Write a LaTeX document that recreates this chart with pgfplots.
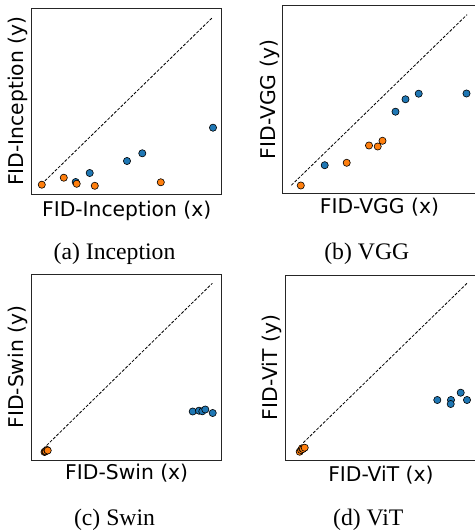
\documentclass[border=0pt]{standalone}
\usepackage{fontspec}
\setmainfont{Liberation Serif}
\newfontfamily\dejavu{DejaVu Sans}
\usepackage{pgfplots}
\pgfplotsset{compat=1.18}
\definecolor{tabblue}{HTML}{1F77B4}
\definecolor{taborange}{HTML}{FF7F0E}
\pgfplotsset{
  panel/.style={scale only axis, xtick=\empty, ytick=\empty, clip=false,
    axis line style={black!85, line width=0.8pt}, anchor=south west},
  xlab/.style={every axis x label/.style={at={(axis description cs:0.5,0)}, yshift=#1, anchor=base, font=\dejavu\fontsize{20.3}{24}\selectfont}},
  ylab/.style={every axis y label/.style={at={(axis description cs:0,0.5)}, xshift=#1, rotate=90, anchor=base, font=\dejavu\fontsize{20.3}{24}\selectfont}},
  bluepts/.style={only marks, mark=*, mark size=3.6pt, mark options={fill=tabblue, draw=black, line width=0.6pt}},
  orangepts/.style={only marks, mark=*, mark size=3.6pt, mark options={fill=taborange, draw=black, line width=0.6pt}},
  diag/.style={black, line width=0.8pt, dash pattern=on 3pt off 1.6pt, no marks},
}
\begin{document}
\begin{tikzpicture}
\useasboundingbox (0,0) rectangle (474pt,532pt);
% (a) Inception
\begin{axis}[panel, at={(31.7pt,338pt)}, width=190pt, height=185.7pt,
  xmin=0, xmax=190, ymin=0, ymax=185.7,
  xlabel={FID-Inception (x)}, ylabel={FID-Inception (y)}, xlab=-22.5pt, ylab=-8.6pt]
\addplot[diag] coordinates {(10,10) (181,176.7)};
\addplot[bluepts] coordinates {(181.3,66.3) (110.6,40.7) (95.3,33) (58,21) (44,12)};
\addplot[orangepts] coordinates {(10.1,9.3) (32.1,16.3) (45,10.2) (63.1,8.2) (129.1,11.7)};
\end{axis}
% (b) VGG
\begin{axis}[panel, at={(282.3pt,338.5pt)}, width=194.2pt, height=187.8pt,
  xmin=0, xmax=194.2, ymin=0, ymax=187.8,
  xlabel={FID-VGG (x)}, ylabel={FID-VGG (y)}, xlab=-20.5pt, ylab=-7.3pt]
\addplot[diag] coordinates {(9,8.2) (184.7,178.8)};
\addplot[bluepts] coordinates {(42.4,28.3) (113.2,81.8) (123.2,94.2) (136.4,99.8) (184.2,100)};
\addplot[orangepts] coordinates {(18.5,8) (64.4,30.7) (86.7,48) (95.4,47) (100.2,52.7)};
\end{axis}
% (c) Swin
\begin{axis}[panel, at={(31.7pt,72pt)}, width=190pt, height=185.7pt,
  xmin=0, xmax=190, ymin=0, ymax=185.7,
  xlabel={FID-Swin (x)}, ylabel={FID-Swin (y)}, xlab=-20pt, ylab=-7.7pt]
\addplot[diag] coordinates {(11.6,11.3) (180.6,176.7)};
\addplot[bluepts] coordinates {(161,48.5) (167.3,49.3) (170.6,48.7) (173.6,50.5) (181,47)};
\addplot[orangepts] coordinates {(12.8,8) (13.5,8.5) (14,8.8) (15.5,10) (16,9.5)};
\end{axis}
% (d) ViT
\begin{axis}[panel, at={(285.3pt,72pt)}, width=191.2pt, height=185pt,
  xmin=0, xmax=191.2, ymin=0, ymax=185,
  xlabel={FID-ViT (x)}, ylabel={FID-ViT (y)}, xlab=-21pt, ylab=-7.5pt]
\addplot[diag] coordinates {(18,17.3) (181.7,176.7)};
\addplot[bluepts] coordinates {(152,60) (165.7,60) (165.4,56) (175.4,67.3) (181.7,60)};
\addplot[orangepts] coordinates {(14.4,8.3) (15.7,10) (16.7,11.7) (17.7,11) (19.4,12.3)};
\end{axis}
\node[font=\fontsize{23.7}{28}\selectfont, anchor=base] at (114.5pt,272.5pt) {(a) Inception};
\node[font=\fontsize{23.7}{28}\selectfont, anchor=base] at (366.8pt,272pt) {(b) VGG};
\node[font=\fontsize{23.7}{28}\selectfont, anchor=base] at (114.5pt,6.5pt) {(c) Swin};
\node[font=\fontsize{23.7}{28}\selectfont, anchor=base] at (368.3pt,6pt) {(d) ViT};
\end{tikzpicture}
\end{document}
